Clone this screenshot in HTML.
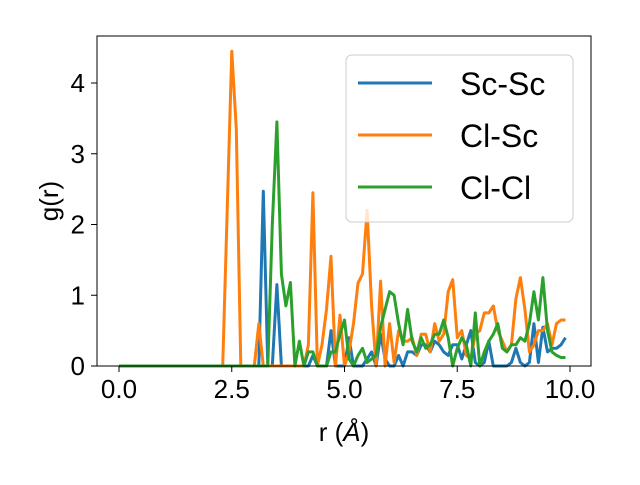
<!DOCTYPE html>
<html><head><meta charset="utf-8"><style>
body{margin:0;background:#fff;font-family:"Liberation Sans","DejaVu Sans",sans-serif}
svg text{font-family:"Liberation Sans","DejaVu Sans",sans-serif;fill:#000}
</style></head><body>
<svg width="640" height="480" id="chart">
<g id="plot"></g>
<rect x="97" y="36" width="494" height="330" fill="none" stroke="#000" stroke-width="1"/>
<g id="xt"></g>
<g id="yt"></g>
<text x="344" y="441" font-size="26" text-anchor="middle">r (<tspan font-style="italic">Å</tspan>)</text>
<text transform="translate(58,201) rotate(-90)" font-size="26" text-anchor="middle">g(r)</text>
<g>
<rect x="346" y="55" width="227" height="167" rx="6" fill="#fff" fill-opacity="0.8" stroke="#ccc"/>
<g><line x1="358" y1="83" x2="432" y2="83" stroke="#1f77b4" stroke-width="3"/><text x="460" y="95" font-size="32">Sc-Sc</text></g>
<g><line x1="358" y1="135" x2="432" y2="135" stroke="#ff7f0e" stroke-width="3"/><text x="460" y="147" font-size="32">Cl-Sc</text></g>
<g><line x1="358" y1="187" x2="432" y2="187" stroke="#2ca02c" stroke-width="3"/><text x="460" y="199" font-size="32">Cl-Cl</text></g>
</g>
</svg>
<script>
const xTicks=[0,2.5,5,7.5,10];
const xTickLabels=["0.0","2.5","5.0","7.5","10.0"];
const yTicks=[0,1,2,3,4];
const yTickLabels=["0","1","2","3","4"];
const scsc=[0,0,0,0,0,0,0,0,0,0, 0,0,0,0,0,0,0,0,0,0, 0,0,0,0,0,0,0,0,0,0, 0,0,2.47,0,0,1.15,0,0,0,0, 0,0,0,0.15,0,0,0,0.5,0,0, 0,0.4,0,0,0,0.1,0.2,0,0.45,0.1, 0,0,0.15,0,0.2,0.2,0.15,0.3,0.3,0.2, 0.35,0.3,0.2,0.15,0.3,0.3,0.1,0.3,0.5,0.05, 0,0.05,0.35,0,0,0,0,0.05,0.25,0.05, 0,0.05,0.6,0.05,0.55,0.2,0.25,0.25,0.3,0.4];
const clsc=[0,0,0,0,0,0,0,0,0,0, 0,0,0,0,0,0,0,0,0,0, 0,0,0,0,2.2,4.45,3.35,0,0,0, 0,0.6,0,0,0,0,0,0,0,0, 0,0,0.3,2.45,0,0.3,0.8,1.55,0,0.72, 0,0.2,0.6,1.17,1.3,2.2,0.85,0,1.2,0, 0.6,0.05,0.5,0.35,0.35,0.4,0.15,0.45,0.45,0.2, 0.6,0.35,0.45,1.05,1.22,0.4,0.5,0.15,0.1,0.45, 0.5,0.75,0.75,0.85,0.5,0.35,0.2,0.3,0.95,1.25, 0.8,0.2,0.3,0.5,0.5,0.6,0.3,0.6,0.65,0.65];
const clcl=[0,0,0,0,0,0,0,0,0,0, 0,0,0,0,0,0,0,0,0,0, 0,0,0,0,0,0,0,0,0,0, 0,0,0,0,2.0,3.45,1.3,0.85,1.18,0, 0.35,0,0.2,0.2,0,0,0,0.2,0.2,0.45, 0.65,0.1,0,0.15,0.25,0.05,0.1,0.15,0.55,0.8, 1.05,1.0,0.6,0.3,0.8,0.35,0.2,0.4,0.25,0.3, 0.45,0.45,0.65,0.4,0,0.25,0.4,0.3,0,0.75, 0,0.2,0.35,0.45,0.6,0.25,0.2,0.3,0.3,0.4, 0.35,0.6,1.05,0.65,1.25,0.5,0.2,0.15,0.12,0.12];
const seriesNames=["Sc-Sc","Cl-Sc","Cl-Cl"];
const seriesColors=["#1f77b4","#ff7f0e","#2ca02c"];
const NS="http://www.w3.org/2000/svg";
const X=v=>119+v*45.1, Y=v=>366-v*70.75;
const plot=document.getElementById('plot');
[scsc,clsc,clcl].forEach((arr,k)=>{
  const p=document.createElementNS(NS,'polyline');
  p.setAttribute('points',arr.map((v,i)=>X(i*0.1).toFixed(1)+','+Y(v).toFixed(1)).join(' '));
  p.setAttribute('fill','none');p.setAttribute('stroke',seriesColors[k]);p.setAttribute('stroke-width','3');p.setAttribute('stroke-linejoin','round');
  
  
  plot.appendChild(p);
});
const xt=document.getElementById('xt');
xTicks.forEach((v,i)=>{
  const l=document.createElementNS(NS,'line');
  l.setAttribute('x1',X(v));l.setAttribute('x2',X(v));l.setAttribute('y1',366);l.setAttribute('y2',372);l.setAttribute('stroke','#000');
  
  
  xt.appendChild(l);
  const t=document.createElementNS(NS,'text');
  t.setAttribute('x',X(v));t.setAttribute('y',398);t.setAttribute('font-size','26');t.setAttribute('text-anchor','middle');
  t.textContent=xTickLabels[i];
  
  
  xt.appendChild(t);
});
const yt=document.getElementById('yt');
yTicks.forEach((v,i)=>{
  const l=document.createElementNS(NS,'line');
  l.setAttribute('x1',91);l.setAttribute('x2',97);l.setAttribute('y1',Y(v));l.setAttribute('y2',Y(v));l.setAttribute('stroke','#000');
  
  
  yt.appendChild(l);
  const t=document.createElementNS(NS,'text');
  t.setAttribute('x',85);t.setAttribute('y',Y(v)+9);t.setAttribute('font-size','26');t.setAttribute('text-anchor','end');
  t.textContent=yTickLabels[i];
  
  
  yt.appendChild(t);
});
</script>
</body></html>
